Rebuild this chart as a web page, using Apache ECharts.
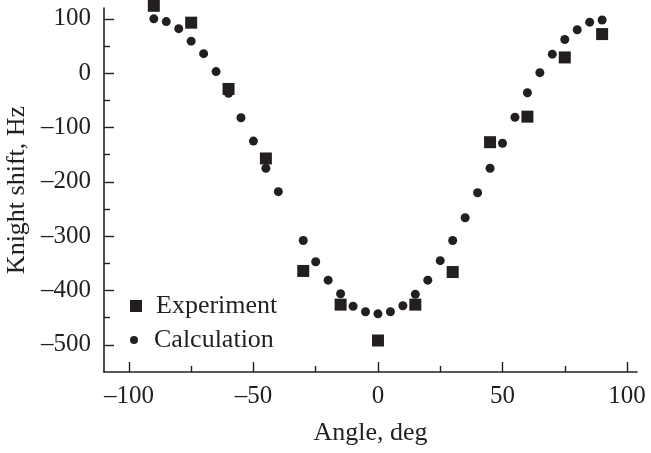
<!DOCTYPE html>
<html>
<head>
<meta charset="utf-8">
<script src="https://cdn.jsdelivr.net/npm/echarts@6/dist/echarts.min.js"></script>
<style>
  html, body { margin: 0; padding: 0; background: #fff; }
  #chart { width: 651px; height: 453px; }
</style>
</head>
<body>
<div id="chart"></div>
<script>
// measured points
var expAngle = [-90, -75, -60, -45, -30, -15, 0, 15, 30, 45, 60, 75, 90];
var expShift = [124, 93, -29, -157, -364, -426, -492, -426, -366, -127, -80, 29, 72];

var calcAngle = [-90, -85, -80, -75, -70, -65, -60, -55, -50, -45, -40, -30, -25, -20, -15, -10, -5, 0,
  5, 10, 15, 20, 25, 30, 35, 40, 45, 50, 55, 60, 65, 70, 75, 80, 85, 90];
var calcShift = [100, 95, 82, 59, 36, 3, -37, -82, -125, -175, -218, -308, -347, -381, -406, -429, -439, -443,
  -439, -428, -407, -381, -345, -308, -266, -220, -175, -129, -81, -36, 1, 35, 62, 80, 94, 98];

// ticks
var xMajor = [-100, -50, 0, 50, 100];
var xMinor = [-75, -25, 25, 75];
var yMajor = [-500, -400, -300, -200, -100, 0, 100];
var yMinor = [-450, -350, -250, -150, -50, 50];

var ink = "#231f20";
var font = "Liberation Serif";

function pairs(xs, ys) {
  var out = [];
  for (var i = 0; i < xs.length; i++) {
    out.push([xs[i], ys[i]]);
  }
  return out;
}

function fmt(v) {
  return v < 0 ? "\u2013" + Math.abs(v) : String(v);
}

// axis that only carries a set of inward ticks
function tickAxis(min, max, values, len, pos) {
  return {
    type: "value", min: min, max: max, position: pos,
    splitLine: { show: false },
    axisLine: { show: false, onZero: false },
    axisLabel: { show: false },
    axisTick: { show: true, inside: true, length: len, customValues: values, lineStyle: { color: ink, width: 1.4 } }
  };
}

var chart = echarts.init(document.getElementById("chart"), null, { renderer: "canvas" });

var option = {
  animation: false,
  backgroundColor: "#fff",
  textStyle: { fontFamily: font, color: ink },
  grid: { left: 104, right: 14, top: 8, bottom: 81, containLabel: false, outerBoundsMode: "none" },
  legend: [
    {
      left: 125, top: 288, orient: "vertical",
      itemWidth: 30, itemHeight: 12, symbolKeepAspect: true,
      textStyle: { fontFamily: font, fontSize: 26, color: ink },
      data: [{ name: "Experiment", icon: "path://M0,0L1,0L1,1L0,1Z" }]
    },
    {
      left: 125, top: 322, orient: "vertical",
      itemWidth: 30, itemHeight: 8, symbolKeepAspect: true,
      textStyle: { fontFamily: font, fontSize: 26, color: ink },
      data: [{ name: "Calculation", icon: "path://M2,1A1,1,0,1,1,0,1A1,1,0,1,1,2,1Z" }]
    }
  ],
  xAxis: [
    {
      type: "value", min: -110, max: 104,
      splitLine: { show: false },
      axisLine: { show: true, onZero: false, lineStyle: { color: ink, width: 1.6 } },
      axisTick: { show: false },
      name: "Angle, deg", nameLocation: "middle", nameGap: 48,
      nameTextStyle: { fontFamily: font, fontSize: 26, color: ink },
      axisLabel: { show: true, customValues: xMajor, margin: 12, fontFamily: font, fontSize: 25, color: ink, formatter: fmt }
    },
    tickAxis(-110, 104, xMajor, 10, "bottom"),
    tickAxis(-110, 104, xMinor, 6, "bottom")
  ],
  yAxis: [
    {
      type: "value", min: -550, max: 120,
      splitLine: { show: false },
      axisLine: { show: true, onZero: false, lineStyle: { color: ink, width: 1.6 } },
      axisTick: { show: false },
      name: "Knight shift, Hz", nameLocation: "middle", nameGap: 72,
      nameTextStyle: { fontFamily: font, fontSize: 26, color: ink },
      axisLabel: { show: true, customValues: yMajor, margin: 13, fontFamily: font, fontSize: 25, color: ink, formatter: fmt }
    },
    tickAxis(-550, 120, yMajor, 10, "left"),
    tickAxis(-550, 120, yMinor, 6, "left")
  ],
  series: [
    {
      name: "Experiment",
      type: "scatter",
      symbol: "rect",
      symbolSize: 12,
      clip: false,
      itemStyle: { color: ink, opacity: 1 },
      data: pairs(expAngle, expShift)
    },
    {
      name: "Calculation",
      type: "scatter",
      symbol: "circle",
      symbolSize: 9,
      clip: false,
      itemStyle: { color: ink, opacity: 1 },
      data: pairs(calcAngle, calcShift)
    }
  ]
};

chart.setOption(option);
</script>
</body>
</html>
